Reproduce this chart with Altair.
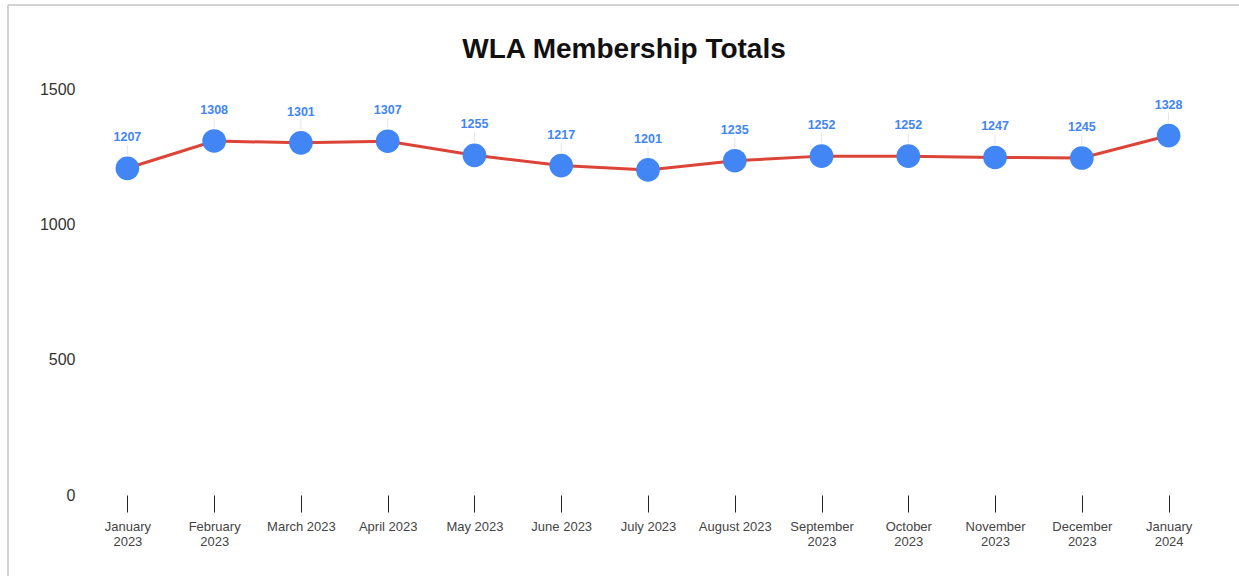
import altair as alt
import pandas as pd

months = ["January 2023", "February 2023", "March 2023", "April 2023", "May 2023",
          "June 2023", "July 2023", "August 2023", "September 2023", "October 2023",
          "November 2023", "December 2023", "January 2024"]
members = [1207, 1308, 1301, 1307, 1255, 1217, 1201, 1235, 1252, 1252, 1247, 1245, 1328]
y_ticks = [0, 500, 1000, 1500]

df = pd.DataFrame({"month": months, "members": members})
FONT = "Liberation Sans"

x = alt.X("month:N", sort=months, title=None,
          scale=alt.Scale(type="point", padding=0.5),
          axis=alt.Axis(labelAngle=0, domain=False, ticks=True, tickColor="#222",
                        tickSize=17, tickWidth=1, labelPadding=8, labelFontSize=13,
                        labelFont=FONT, labelColor="#444", labelLineHeight=15,
                        labelExpr="length(datum.value) > 11 ? split(datum.value, ' ') : datum.value",
                        grid=False))
y = alt.Y("members:Q", title=None,
          scale=alt.Scale(domain=[0, 1500], nice=False, zero=True),
          axis=alt.Axis(values=y_ticks, format="d", domain=False, ticks=False, grid=False,
                        labelPadding=9, labelFontSize=16, labelFont=FONT, labelColor="#333"))

base = alt.Chart(df)

line = base.mark_line(color="#DB4437", strokeWidth=3).encode(x=x, y=y)
leader = base.mark_rule(color="#e6e6e6", strokeWidth=1, yOffset=-23, y2Offset=-13).encode(
    x=x, y=y, y2="members:Q")
points = base.mark_circle(color="#4285F4", size=560, opacity=1).encode(x=x, y=y)
labels = base.mark_text(color="#4285F4", fontWeight="bold", fontSize=12.5, font=FONT,
                        dy=-31).encode(x=x, y=y, text="members:Q")

frame_data = alt.Data(values=[{"a": 1}])
left_border = alt.Chart(frame_data).mark_rule(color="#c4c4c4", strokeWidth=1.5).encode(
    x=alt.value(-76), y=alt.value(-84), y2=alt.value(487))
top_border = alt.Chart(frame_data).mark_rule(color="#c4c4c4", strokeWidth=1.5).encode(
    x=alt.value(-76), x2=alt.value(1155), y=alt.value(-84))

chart = alt.layer(left_border, top_border, line, leader, points, labels).properties(
    width=1128, height=406,
    title=alt.TitleParams("WLA Membership Totals", font=FONT, fontSize=28, fontWeight="bold",
                          color="#111", anchor="middle", dx=-24, offset=0, dy=82,
                          baseline="alphabetic", frame="group"),
    autosize=alt.AutoSizeParams(type="none"),
    padding={"left": 84, "top": 89, "right": 27, "bottom": 81},
    background="white",
).configure_view(stroke=None)

chart.save("out.html", embed_options={"renderer": "svg", "actions": False})
